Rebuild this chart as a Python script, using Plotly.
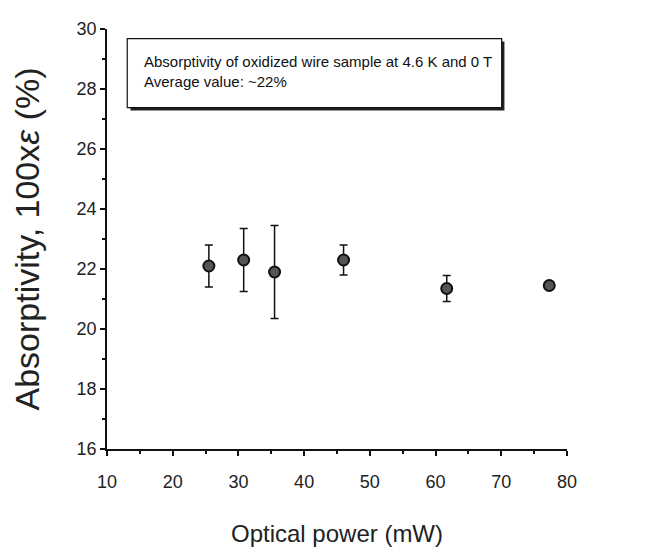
import plotly.graph_objects as go

power_mw = [25.5, 30.8, 35.5, 46.0, 61.7, 77.3]
absorptivity = [22.1, 22.3, 21.9, 22.3, 21.35, 21.45]
abs_err = [0.7, 1.05, 1.55, 0.5, 0.43, 0.1]

x_ticks = [10, 20, 30, 40, 50, 60, 70, 80]
y_ticks = [16, 18, 20, 22, 24, 26, 28, 30]

box_lines = ["Absorptivity of oxidized wire sample at 4.6 K and 0 T",
             "Average value: ~22%"]

FONT = "Liberation Sans, Arial, sans-serif"

fig = go.Figure()
fig.add_trace(go.Scatter(
    x=power_mw, y=absorptivity, mode="markers",
    marker=dict(size=11, color="#555555", line=dict(color="#111111", width=2)),
    error_y=dict(type="data", array=abs_err, visible=True, color="#111111",
                 thickness=1.5, width=4),
    showlegend=False,
))

# text box with shadow
fig.add_shape(type="rect", xref="paper", yref="paper",
              x0=0.051, x1=0.864, y0=0.806, y1=0.970,
              fillcolor="#222222", line=dict(width=0), layer="above")
fig.add_shape(type="rect", xref="paper", yref="paper",
              x0=0.044, x1=0.858, y0=0.813, y1=0.977,
              fillcolor="white", line=dict(color="#111111", width=1.2), layer="above")
fig.add_annotation(xref="paper", yref="paper", x=0.075, y=0.898,
                   xanchor="left", yanchor="middle", align="left",
                   text="<br>".join(box_lines), showarrow=False,
                   font=dict(family=FONT, size=15, color="#111111"))

axis_common = dict(
    showline=True, linecolor="#111111", linewidth=1.5,
    ticks="outside", tickcolor="#111111", ticklen=5, tickwidth=1.5,
    showgrid=False, zeroline=False, mirror=False,
    tickfont=dict(family=FONT, size=18, color="#222222"),
)

fig.update_xaxes(range=[10, 80], tickvals=x_ticks, ticklabelstandoff=11,
                 minor=dict(ticks="outside", dtick=5, ticklen=3, tickcolor="#111111"),
                 title=dict(text="Optical power (mW)", font=dict(family=FONT, size=24, color="#222222"),
                            standoff=34),
                 **axis_common)
fig.update_yaxes(range=[16, 30], tickvals=y_ticks,
                 minor=dict(ticks="outside", dtick=1, ticklen=3, tickcolor="#111111"),
                 title=dict(text="Absorptivity, 100x<i>ε</i> (%)",
                            font=dict(family=FONT, size=34, color="#222222"), standoff=27),
                 **axis_common)

fig.update_layout(
    width=664, height=552,
    margin=dict(l=99, r=105, t=11, b=111),
    paper_bgcolor="white", plot_bgcolor="white",
)

fig.write_html("out.html")
